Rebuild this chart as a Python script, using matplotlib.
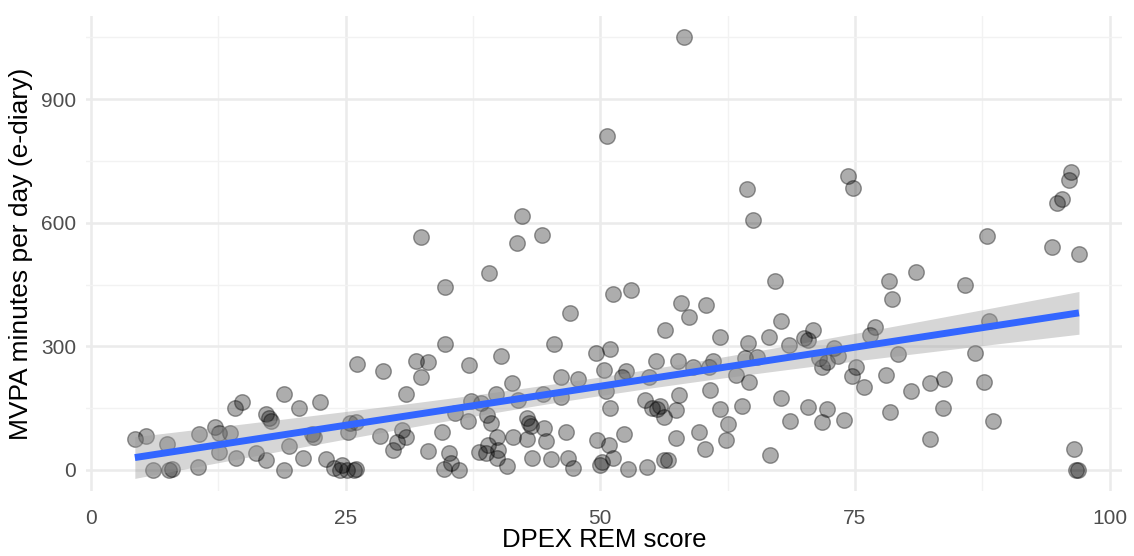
import numpy as np
import matplotlib
matplotlib.use('Agg')
from matplotlib import pyplot as plt

# DPEX REM score (x) and MVPA minutes per day (y)
rem_score = [
    4.3, 5.4, 7.5, 6.1, 7.7, 7.9, 10.6, 10.5, 12.2, 12.6, 13.6, 12.6, 14.1, 14.8, 14.2,
    16.2, 17.2, 17.5, 17.7, 17.2, 18.9, 18.9, 19.4, 20.4, 20.8, 21.7, 21.9, 22.5, 23.1,
    23.9, 24.6, 24.4, 25.1, 25.8, 26.0, 25.4, 26.0, 25.2, 26.1, 28.7, 28.4, 30.9, 29.6,
    30.0, 30.5, 30.9, 31.9, 33.1, 32.4, 32.4, 34.8, 34.8, 33.1, 34.5, 35.1, 35.3, 34.7,
    36.1, 35.7, 37.1, 37.0, 37.3, 38.3, 39.1, 40.3, 41.3, 39.8, 38.9, 39.3, 39.9, 39.0,
    38.1, 38.8, 40.0, 39.9, 40.8, 41.4, 41.9, 41.8, 44.3, 42.3, 47.0, 42.8, 43.0, 43.2,
    44.5, 42.8, 44.7, 43.3, 45.2, 44.4, 45.5, 46.1, 46.1, 47.8, 46.6, 46.8, 47.3, 49.6,
    49.7, 50.9, 51.2, 50.2, 50.0, 51.2, 53.0, 51.0, 50.4, 52.5, 52.1, 50.6, 51.0, 52.3,
    52.7, 54.6, 54.8, 55.5, 54.4, 55.1, 55.6, 55.9, 56.3, 56.4, 57.4, 57.7, 57.6, 57.9,
    58.7, 57.4, 56.3, 56.6, 59.1, 59.7, 60.3, 60.4, 60.8, 61.1, 60.7, 61.8, 61.8, 62.5,
    62.3, 63.3, 63.9, 64.5, 64.2, 64.6, 65.4, 66.6, 67.2, 67.7, 66.7, 67.7, 68.5, 68.6,
    70.0, 70.4, 70.9, 70.4, 71.5, 71.8, 72.3, 71.8, 72.3, 72.9, 73.3, 73.9, 74.7, 75.1,
    88.0, 94.4, 97.0, 78.3, 81.0, 78.6, 85.8, 77.0, 76.5, 88.2, 79.2, 86.8, 78.1, 75.9,
    80.5, 82.4, 83.7, 87.7, 78.4, 83.6, 88.6, 82.4, 96.5, 96.7, 96.9, 58.2, 50.7, 74.3,
    74.8, 96.2, 96.0, 64.4, 65.0, 94.8, 95.3,
]
mvpa_minutes = [
    74, 82, 62, 0, 0, 2, 87, 8, 105, 90, 89, 44, 150, 166, 30,
    40, 136, 125, 120, 23, 184, 0, 59, 150, 30, 87, 80, 166, 26,
    4, 12, 0, 0, 0, 2, 113, 117, 93, 257, 240, 82, 184, 49,
    69, 97, 79, 265, 263, 226, 565, 443, 305, 46, 91, 42, 16, 2,
    0, 139, 255, 120, 168, 162, 479, 277, 210, 184, 133, 113, 81, 61,
    44, 42, 49, 28, 10, 81, 170, 550, 570, 615, 380, 125, 115, 107,
    101, 74, 71, 30, 26, 184, 305, 226, 178, 220, 91, 28, 4, 285,
    73, 61, 30, 20, 12, 426, 437, 293, 243, 239, 226, 192, 150, 87,
    2, 7, 226, 265, 170, 150, 148, 155, 129, 340, 146, 182, 264, 404,
    372, 77, 25, 23, 249, 91, 51, 400, 194, 265, 250, 322, 148, 112,
    73, 230, 154, 307, 271, 214, 275, 322, 459, 362, 36, 174, 303, 120,
    319, 315, 340, 152, 271, 251, 263, 117, 148, 295, 277, 121, 228, 251,
    568, 540, 524, 459, 480, 414, 450, 348, 327, 362, 281, 285, 230, 202,
    192, 210, 220, 214, 141, 150, 120, 74, 52, 0, 0, 1050, 811, 714,
    683, 723, 703, 682, 607, 647, 657,
]

x_ticks = [0, 25, 50, 75, 100]
y_ticks = [0, 300, 600, 900]

x = np.array(rem_score)
y = np.array(mvpa_minutes)

# linear fit with 95% confidence band (like geom_smooth(method = "lm"))
slope, intercept = np.polyfit(x, y, 1)
n = len(x)
resid = y - (slope * x + intercept)
s_err = np.sqrt(np.sum(resid ** 2) / (n - 2))
x_fit = np.linspace(x.min(), x.max(), 100)
y_fit = slope * x_fit + intercept
se_fit = s_err * np.sqrt(1 / n + (x_fit - x.mean()) ** 2 / np.sum((x - x.mean()) ** 2))
t_val = 1.972

fig = plt.figure(figsize=(11.34, 5.56), dpi=100)
ax = fig.add_axes([0.0758, 0.1162, 0.9134, 0.8554])

ax.scatter(x, y, s=125, facecolor=(0, 0, 0, 0.32), edgecolor=(0, 0, 0, 0.38),
           linewidth=1.0, zorder=2)
ax.fill_between(x_fit, y_fit - t_val * se_fit, y_fit + t_val * se_fit,
                color='#999999', alpha=0.4, linewidth=0, zorder=3)
ax.plot(x_fit, y_fit, color='#3366FF', linewidth=5, solid_capstyle='butt', zorder=4)

ax.set_xlim(-0.5, 101.2)
ax.set_ylim(-52, 1102)
ax.set_xticks(x_ticks)
ax.set_yticks(y_ticks)
ax.set_xticks([12.5, 37.5, 62.5, 87.5], minor=True)
ax.set_yticks([150, 450, 750, 1050], minor=True)
ax.grid(which='major', color='#ebebeb', linewidth=1.8, zorder=0)
ax.grid(which='minor', color='#f2f2f2', linewidth=1.0, zorder=0)
ax.set_axisbelow(True)
for spine in ax.spines.values():
    spine.set_visible(False)

ax.tick_params(which='both', length=0)
ax.tick_params(axis='x', pad=13, labelsize=15, labelcolor='#4d4d4d')
ax.tick_params(axis='y', pad=7, labelsize=15, labelcolor='#4d4d4d')
for lbl in ax.get_xticklabels() + ax.get_yticklabels():
    lbl.set_family('Liberation Sans')

ax.set_xlabel('DPEX REM score', fontsize=18.5, family='Liberation Sans', labelpad=0)
ax.set_ylabel('MVPA minutes per day (e-diary)', fontsize=19, family='Liberation Sans',
              labelpad=6)

fig.savefig('out.png', dpi=100, facecolor='white')
